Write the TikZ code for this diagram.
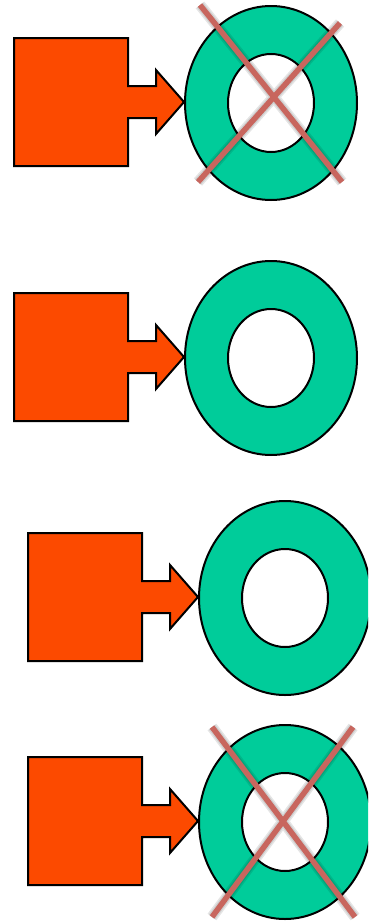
\documentclass[tikz,border=0pt]{standalone}
\usetikzlibrary{positioning}
\definecolor{plugorange}{HTML}{FC4A00}
\definecolor{ringgreen}{HTML}{00CC9A}
\definecolor{crossred}{HTML}{C8665E}
\tikzset{%
   % the square with its arrow: one outline, filled
   plug/.style={
      draw=black,
      line width=2pt,
      line join=miter,
      fill=plugorange
   },
   ring/.style={
      draw=black,
      line width=2pt,
      fill=ringgreen,
      even odd rule
   },
   crossline/.style={
      draw=crossred,
      line width=5.5pt
   },
   crossshadow/.style={
      draw=black,
      opacity=.1,
      line width=#1
   },
}
\begin{document}
\begin{tikzpicture}[x=1pt, y=-1pt]
\clip (0,0) rectangle (368,921);
\foreach \name/\x/\y in {one/14/38, two/14/293, three/28/533, four/28/757} {
  \begin{scope}[shift={(\x,\y)}]
    \coordinate (\name-box) at (0,0);
    \coordinate (\name-tip) at (170,64);
    \coordinate (\name-ring) at (257,65);
    \path[plug] (\name-box) -- ++(114,0) -- ++(0,48) -- ++(28,0) -- ++(0,-16)
       -- (\name-tip) -- ++(-28,32) -- ++(0,-16) -- ++(-28,0) -- ++(0,48)
       -- ++(-114,0) -- cycle;
    \path[ring] (\name-ring) ellipse [x radius=86, y radius=97]
       (\name-ring) ellipse [x radius=43, y radius=49];
  \end{scope}
}
% crossed out rings
\foreach \name/\ax/\ay/\bx/\by/\cx/\cy/\dx/\dy in
   {one/-71/-98/71/79/-73/79/69/-80, four/-73/-95/70/95/-73/95/68/-95} {
  \foreach \w in {11pt, 8pt} {
    \path[crossshadow=\w, shift={(2.5,2.5)}]
       ([shift={(\ax,\ay)}]\name-ring) -- ([shift={(\bx,\by)}]\name-ring)
       ([shift={(\cx,\cy)}]\name-ring) -- ([shift={(\dx,\dy)}]\name-ring);
  }
  \path[crossline] ([shift={(\ax,\ay)}]\name-ring) -- ([shift={(\bx,\by)}]\name-ring);
  \path[crossline] ([shift={(\cx,\cy)}]\name-ring) -- ([shift={(\dx,\dy)}]\name-ring);
}
\end{tikzpicture}
\end{document}
